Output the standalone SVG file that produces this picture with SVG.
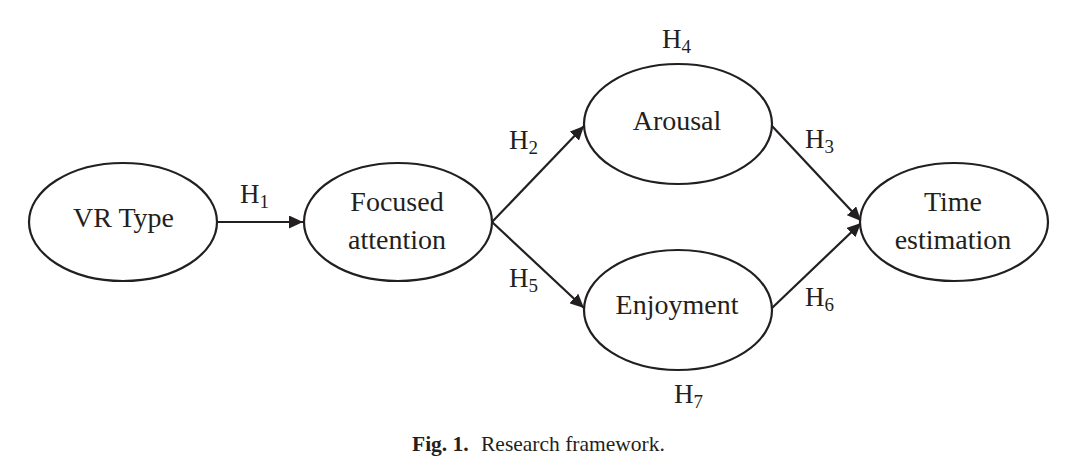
<svg xmlns="http://www.w3.org/2000/svg" width="1085" height="476" viewBox="0 0 1085 476">
<style>
.node ellipse{fill:#fff;stroke:#231f20;stroke-width:2.2}
.lbl{font-family:"Liberation Serif","Times New Roman",serif;font-size:28px;fill:#231f20;text-anchor:middle}
.h{font-family:"Liberation Serif","Times New Roman",serif;font-size:27px;fill:#231f20}
.sub{font-size:19px}
.edge line{stroke:#231f20;stroke-width:2.2;fill:none}
.cap{font-family:"Liberation Serif","Times New Roman",serif;font-size:21.5px;fill:#231f20}
</style>
<defs>
<marker id="ah" markerUnits="userSpaceOnUse" markerWidth="15" markerHeight="13" refX="14" refY="6.5" orient="auto">
<path d="M0,0 L14,6.5 L0,13 z" fill="#231f20"/>
</marker>
</defs>
<rect width="1085" height="476" fill="#fff"/>
<g id="connectors" class="edge">
<line x1="217" y1="222" x2="303" y2="222" marker-end="url(#ah)"/>
<line x1="492" y1="222" x2="584" y2="126" marker-end="url(#ah)"/>
<line x1="492" y1="222" x2="584" y2="308" marker-end="url(#ah)"/>
<line x1="772" y1="126" x2="861" y2="221" marker-end="url(#ah)"/>
<line x1="772" y1="308" x2="861" y2="223" marker-end="url(#ah)"/>
</g>
<g id="node-vrtype" class="node">
<ellipse cx="123" cy="222" rx="94" ry="59"/>
<text class="lbl" x="123.5" y="227">VR Type</text>
</g>
<g id="node-focused" class="node">
<ellipse cx="398" cy="222" rx="94" ry="59"/>
<text class="lbl" x="397" y="211">Focused</text>
<text class="lbl" x="397" y="249">attention</text>
</g>
<g id="node-arousal" class="node">
<ellipse cx="678" cy="124" rx="94" ry="60"/>
<text class="lbl" x="677" y="130">Arousal</text>
</g>
<g id="node-enjoyment" class="node">
<ellipse cx="678" cy="310" rx="94" ry="60"/>
<text class="lbl" x="677" y="314">Enjoyment</text>
</g>
<g id="node-time" class="node">
<ellipse cx="954" cy="222" rx="94" ry="59"/>
<text class="lbl" x="953" y="211">Time</text>
<text class="lbl" x="953" y="249">estimation</text>
</g>
<g id="labels">
<text class="h" x="240" y="203">H<tspan class="sub" dy="5">1</tspan></text>
<text class="h" x="509" y="149">H<tspan class="sub" dy="5">2</tspan></text>
<text class="h" x="805" y="148">H<tspan class="sub" dy="5">3</tspan></text>
<text class="h" x="662" y="48">H<tspan class="sub" dy="5">4</tspan></text>
<text class="h" x="509" y="287">H<tspan class="sub" dy="5">5</tspan></text>
<text class="h" x="805" y="306">H<tspan class="sub" dy="5">6</tspan></text>
<text class="h" x="674" y="403">H<tspan class="sub" dy="5">7</tspan></text>
</g>
<text class="cap" y="451"><tspan x="412" font-weight="bold">Fig. 1.</tspan><tspan x="481">Research framework.</tspan></text>
</svg>
